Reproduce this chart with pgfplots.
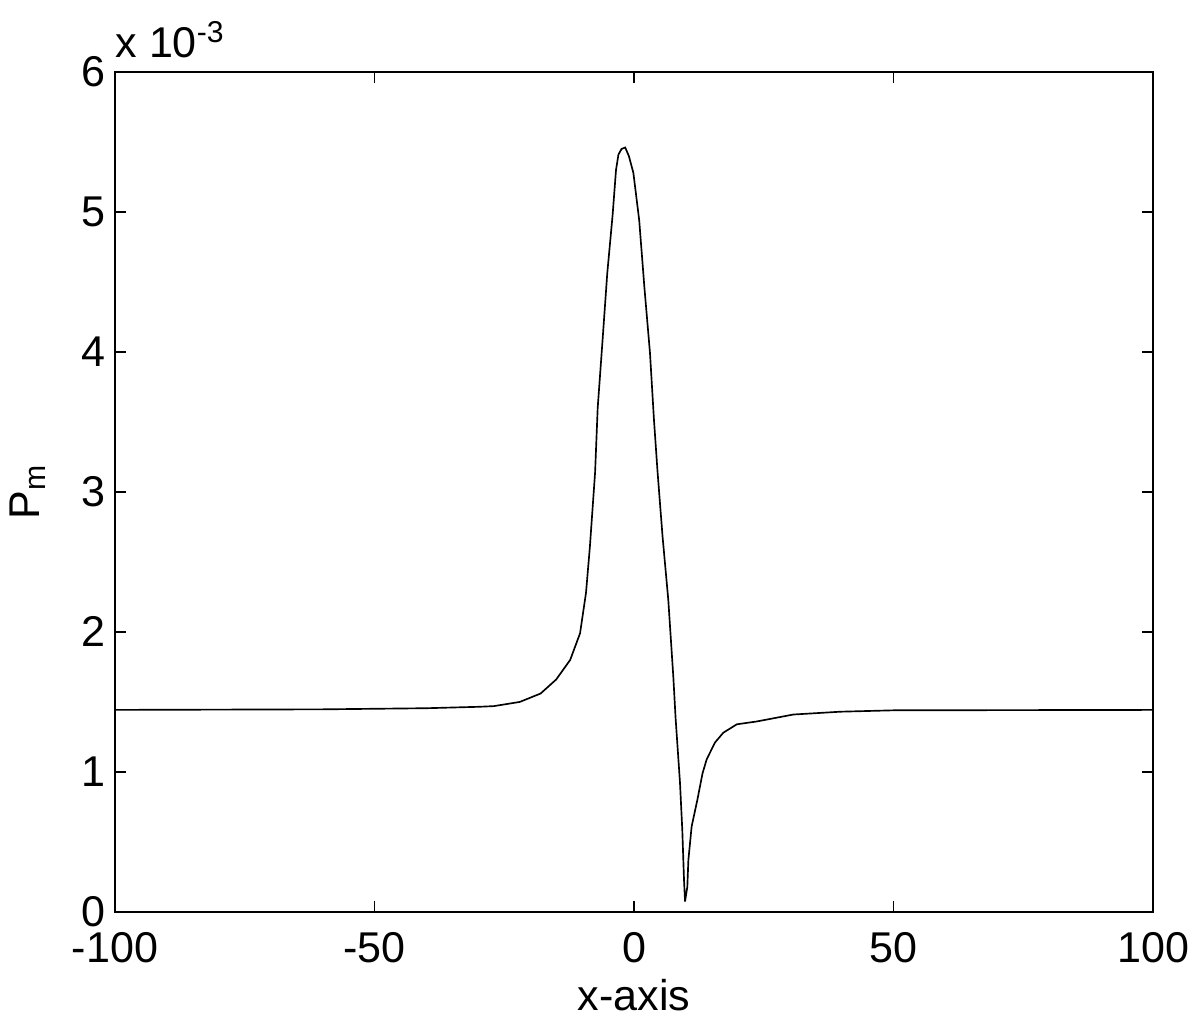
\documentclass[border=0pt]{standalone}
\usepackage{fontspec}
\setmainfont{Liberation Sans}
\usepackage{pgfplots}
\pgfplotsset{compat=1.18}

\begin{document}
\begin{tikzpicture}
\begin{axis}[
  name=ax,
  scale only axis,
  width=373.7pt, height=302.4pt,
  xmin=-100, xmax=100, ymin=0, ymax=6e-3,
  xtick={-100,-50,0,50,100},
  ytick={0,1e-3,2e-3,3e-3,4e-3,5e-3,6e-3},
  tick align=inside, major tick length=4pt,
  tick pos=both,
  axis line style={line width=0.6pt},
  every tick/.style={black, line width=0.6pt},
  /pgf/number format/assume math mode=true,
  tick label style={font=\fontsize{15.5}{18}\selectfont},
  xticklabel style={yshift=-4pt},
  scaled y ticks=base 10:3,
  ytick scale label code/.code={x 10\textsuperscript{-3}},
  every y tick scale label/.style={at={(rel axis cs:0,1)}, anchor=south west,
    inner sep=0pt, yshift=5pt, font=\fontsize{15.5}{18}\selectfont},
  xlabel={x-axis}, ylabel={P\textsubscript{m}},
  label style={font=\fontsize{15.5}{18}\selectfont},
  xlabel style={yshift=1pt},
  ylabel style={yshift=6pt},
]
\addplot[black, line width=0.6pt] coordinates {
  (-100,1.443e-3) (-60,1.447e-3) (-40,1.455e-3) (-30,1.465e-3) (-27,1.47e-3)
  (-22,1.50e-3) (-18,1.56e-3) (-15,1.66e-3) (-12.3,1.80e-3) (-10.4,1.99e-3)
  (-9.25,2.28e-3) (-8.5,2.61e-3) (-7.5,3.14e-3) (-7.0,3.6e-3) (-6.05,4.09e-3)
  (-5.16,4.56e-3) (-4.12,4.98e-3) (-3.47,5.30e-3) (-3.0,5.41e-3) (-2.4,5.45e-3)
  (-1.7,5.46e-3) (-1.0,5.40e-3)
  (-0.13,5.28e-3) (1.0,4.94e-3) (2.0,4.46e-3) (3.08,3.99e-3) (3.85,3.51e-3)
  (4.54,3.14e-3) (5.5,2.68e-3) (6.6,2.23e-3) (7.57,1.68e-3) (8.0,1.39e-3)
  (8.86,0.92e-3) (9.3,0.586e-3) (9.63,0.23e-3) (9.83,0.074e-3) (10.27,0.18e-3)
  (10.47,0.37e-3) (11.1,0.61e-3) (12.2,0.80e-3) (13.2,0.99e-3) (14.0,1.09e-3)
  (15.6,1.21e-3) (17.2,1.28e-3) (19.8,1.34e-3) (23.6,1.36e-3) (30.7,1.41e-3)
  (39.7,1.43e-3) (50,1.440e-3) (100,1.443e-3)
};
\end{axis}
% page margins as in the reference
\path ([xshift=-41.4pt,yshift=-37.1pt]ax.south west)
  rectangle ([xshift=16.9pt,yshift=25.9pt]ax.north east);
\end{tikzpicture}
\end{document}
